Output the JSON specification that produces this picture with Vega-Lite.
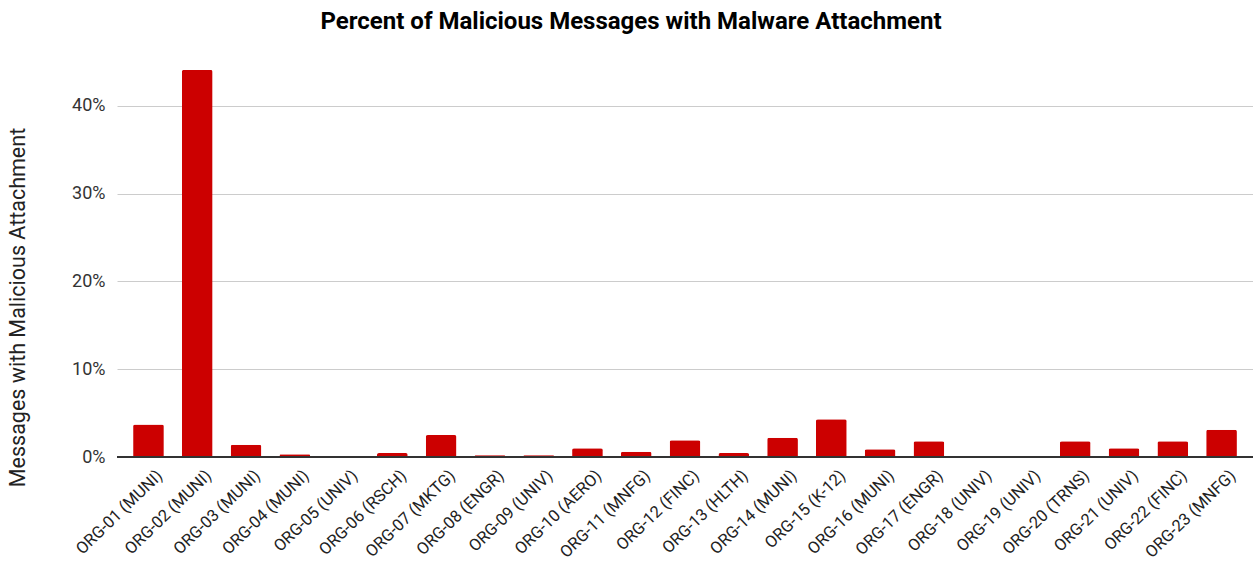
{
  "$schema": "https://vega.github.io/schema/vega-lite/v6.json",
  "autosize": "none",
  "width": 1136,
  "height": 395,
  "padding": {"left": 117, "top": 62, "right": 0, "bottom": 104},
  "background": "white",
  "config": {
    "font": "Roboto",
    "view": {"stroke": null}
  },
  "title": {
    "text": "Percent of Malicious Messages with Malware Attachment",
    "font": "Roboto",
    "fontSize": 24,
    "fontWeight": "bold",
    "color": "#000000",
    "anchor": "middle",
    "dx": -54,
    "offset": 28
  },
  "data": {
    "values": [
      {"org": "ORG-01 (MUNI)", "pct": 0.037},
      {"org": "ORG-02 (MUNI)", "pct": 0.441},
      {"org": "ORG-03 (MUNI)", "pct": 0.014},
      {"org": "ORG-04 (MUNI)", "pct": 0.003},
      {"org": "ORG-05 (UNIV)", "pct": 0.0},
      {"org": "ORG-06 (RSCH)", "pct": 0.0045},
      {"org": "ORG-07 (MKTG)", "pct": 0.025},
      {"org": "ORG-08 (ENGR)", "pct": 0.002},
      {"org": "ORG-09 (UNIV)", "pct": 0.002},
      {"org": "ORG-10 (AERO)", "pct": 0.01},
      {"org": "ORG-11 (MNFG)", "pct": 0.006},
      {"org": "ORG-12 (FINC)", "pct": 0.019},
      {"org": "ORG-13 (HLTH)", "pct": 0.0045},
      {"org": "ORG-14 (MUNI)", "pct": 0.022},
      {"org": "ORG-15 (K-12)", "pct": 0.043},
      {"org": "ORG-16 (MUNI)", "pct": 0.0087},
      {"org": "ORG-17 (ENGR)", "pct": 0.018},
      {"org": "ORG-18 (UNIV)", "pct": 0.0},
      {"org": "ORG-19 (UNIV)", "pct": 0.0},
      {"org": "ORG-20 (TRNS)", "pct": 0.018},
      {"org": "ORG-21 (UNIV)", "pct": 0.01},
      {"org": "ORG-22 (FINC)", "pct": 0.018},
      {"org": "ORG-23 (MNFG)", "pct": 0.031}
    ]
  },
  "layer": [
    {
      "mark": {"type": "bar", "color": "#cc0000", "cornerRadiusTopLeft": 2, "cornerRadiusTopRight": 2},
      "encoding": {
        "x": {
          "field": "org",
          "type": "nominal",
          "sort": null,
          "scale": {"paddingInner": 0.37, "paddingOuter": 0.33},
          "axis": {
            "title": null,
            "labelAngle": -44,
            "labelFontSize": 16.5,
            "labelColor": "#222222",
            "labelFont": "Roboto",
            "labelOffset": 6,
            "ticks": false,
            "domain": false,
            "labelPadding": 10
          }
        },
        "y": {
          "field": "pct",
          "type": "quantitative",
          "scale": {"domain": [0, 0.45], "nice": false},
          "axis": {
            "title": "Messages with Malicious Attachment",
            "titleFont": "Roboto",
            "titleFontSize": 21.5,
            "titleFontWeight": "normal",
            "titleColor": "#222222",
            "titleX": -99,
            "titleY": 245,
            "titleAngle": -90,
            "titleAlign": "center",
            "titleBaseline": "middle",
            "values": [0, 0.1, 0.2, 0.3, 0.4],
            "format": ".0%",
            "labelFontSize": 18,
            "labelColor": "#333333",
            "labelPadding": 12,
            "ticks": false,
            "domain": false,
            "grid": true,
            "gridColor": "#cccccc",
            "gridWidth": 1
          }
        }
      }
    },
    {
      "mark": {"type": "rule", "color": "#333333", "strokeWidth": 1.5},
      "encoding": {"y": {"datum": 0}}
    }
  ]
}
